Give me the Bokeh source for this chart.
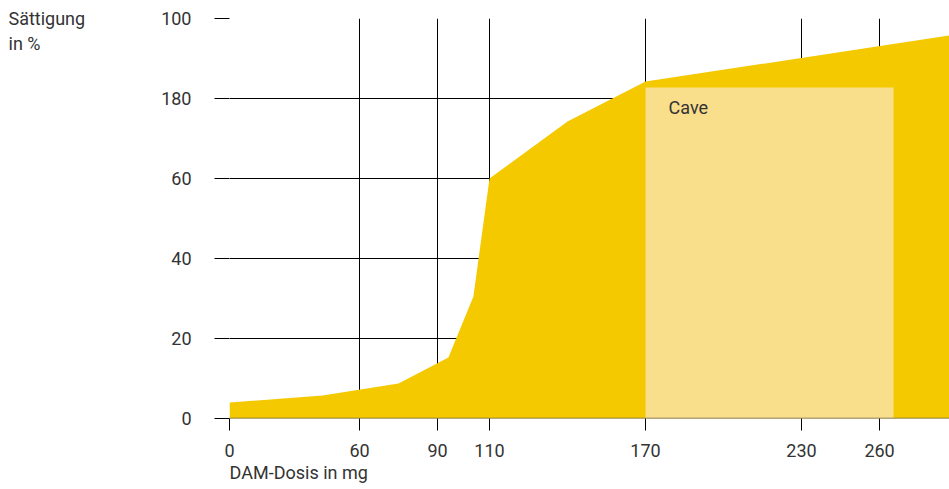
from bokeh.plotting import figure
from bokeh.models import Range1d, FixedTicker, Label, Span
from bokeh.embed import file_html
from bokeh.resources import INLINE

# Data (x in axis units; the "0" label sits at position 10)
dose_x = [10, 45.8, 75, 94.2, 103.8, 110, 140, 170, 287]
saturation = [4, 5.75, 8.75, 15.25, 30.5, 60, 74.25, 84.25, 95.75]

x_tick_pos = [10, 60, 90, 110, 170, 230, 260]
x_tick_labels = ["0", "60", "90", "110", "170", "230", "260"]
y_tick_pos = [0, 20, 40, 60, 80, 100]
y_tick_labels = ["0", "20", "40", "60", "180", "100"]

cave_left, cave_right, cave_top = 170, 265.4, 82.75
cave_label = "Cave"
x_title = "DAM-Dosis in mg"
y_title_lines = ["Sättigung", "in %"]

FONT = "Roboto"
FS = "18px"
TXT = "#333333"
YELLOW = "#F4C900"
LIGHT = "#F9DE8C"

p = figure(width=949, height=489, output_backend="svg", toolbar_location=None,
           x_range=Range1d(10, 286.9), y_range=Range1d(0, 100),
           min_border_left=229, min_border_right=0, min_border_top=18,
           min_border_bottom=71)
p.outline_line_color = None
p.background_fill_color = "white"
p.border_fill_color = "white"

p.varea(x=dose_x, y1=[0] * len(dose_x), y2=saturation, fill_color=YELLOW)
p.quad(left=[cave_left], right=[cave_right], bottom=[0], top=[cave_top],
       fill_color=LIGHT, line_color=None)

p.add_layout(Label(x=cave_left + 8.85, y=77.75, text=cave_label,
                   text_font=FONT, text_font_size=FS, text_color=TXT,
                   text_baseline="middle", text_align="left"))

p.add_layout(Span(location=0, dimension="width", line_color="#6b6040",
                  line_width=1.5, level="overlay"))

# grids
p.xgrid.ticker = FixedTicker(ticks=x_tick_pos)
p.ygrid.ticker = FixedTicker(ticks=y_tick_pos)
for g in (p.xgrid, p.ygrid):
    g.grid_line_color = "black"
    g.grid_line_width = 1
    g.grid_line_alpha = 1

# axes
p.xaxis.ticker = FixedTicker(ticks=x_tick_pos)
p.xaxis.major_label_overrides = dict(zip(x_tick_pos, x_tick_labels))
p.yaxis.ticker = FixedTicker(ticks=y_tick_pos)
p.yaxis.major_label_overrides = dict(zip(y_tick_pos, y_tick_labels))
for ax in (p.xaxis, p.yaxis):
    ax.axis_line_color = None
    ax.minor_tick_line_color = None
    ax.major_tick_in = 0
    ax.major_tick_line_color = "black"
    ax.major_label_text_font = FONT
    ax.major_label_text_font_size = FS
    ax.major_label_text_color = TXT
    ax.axis_label_text_font = FONT
    ax.axis_label_text_font_size = FS
    ax.axis_label_text_font_style = "normal"
    ax.axis_label_text_color = TXT
p.xaxis.major_tick_out = 12
p.xaxis.major_label_standoff = 13
p.yaxis.major_tick_out = 15
p.yaxis.major_label_standoff = 23

# x title: centred on the frame's left edge, so leading non-breaking spaces
# move the visible text to start at the first tick
p.xaxis.axis_label = "\u00a0" * 31 + x_title
p.xaxis.axis_label_align = "start"
p.xaxis.axis_label_standoff = 2

# multi-line horizontal label at the top of the y axis; the leading empty
# line lowers the block, non-breaking spaces left-align the short line
pad = "\u00a0" * 10
p.yaxis.axis_label = "\n" + y_title_lines[0] + "\n" + y_title_lines[1] + pad
p.yaxis.axis_label_orientation = "horizontal"
p.yaxis.axis_label_align = "end"
p.yaxis.axis_label_standoff = 73

open("out.html", "w").write(file_html(p, INLINE))
